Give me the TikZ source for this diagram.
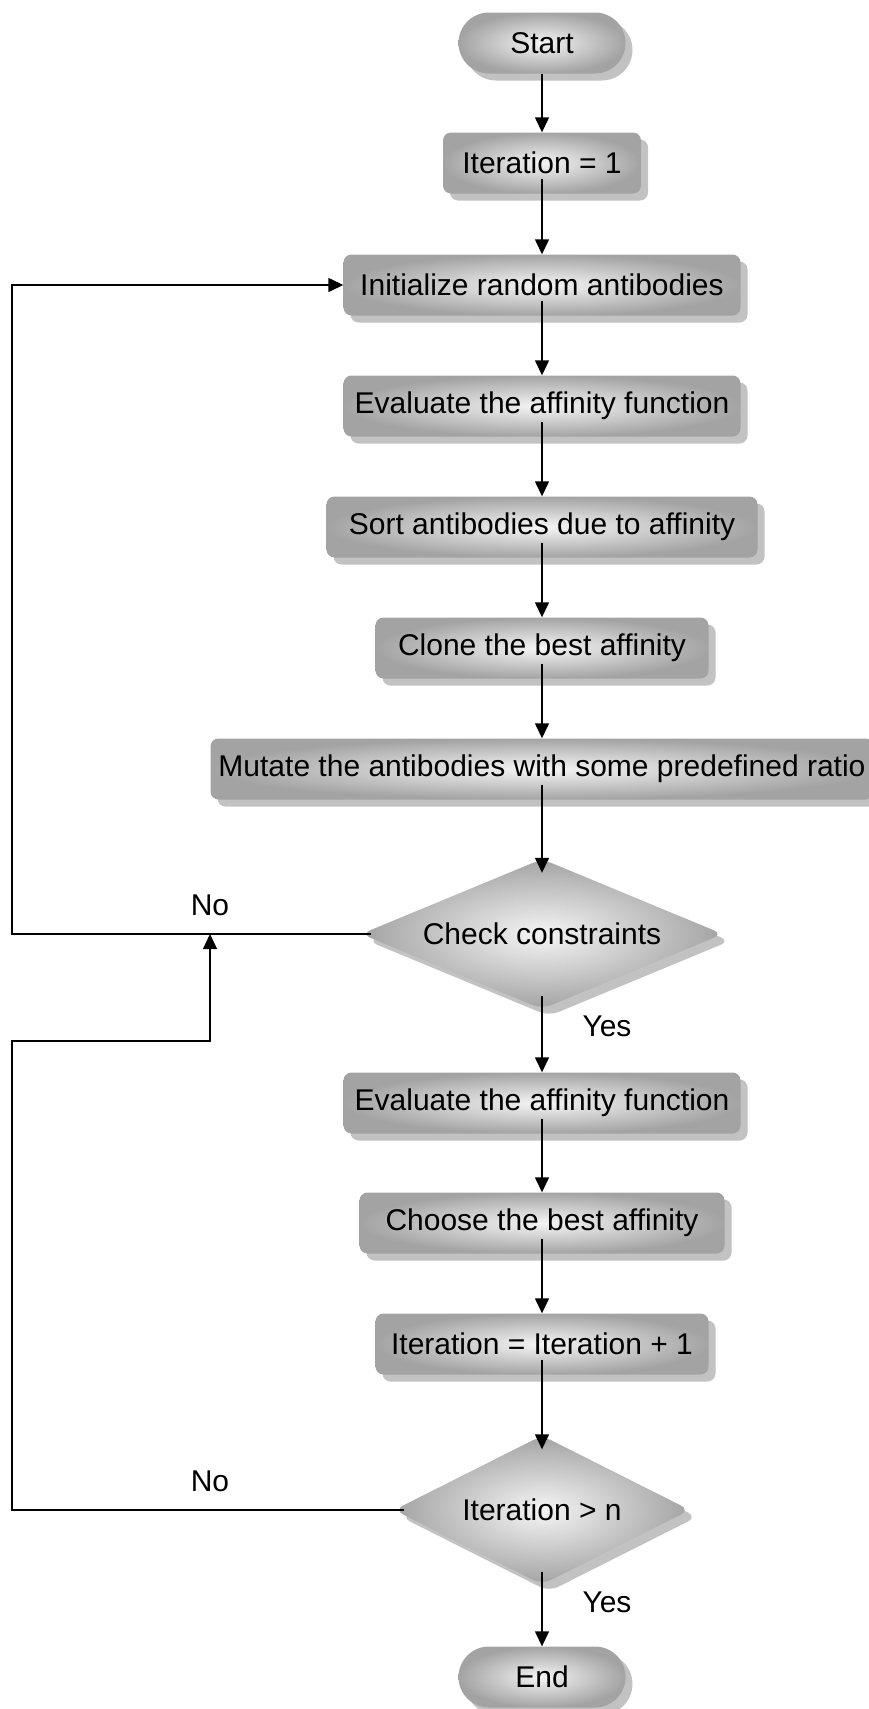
\documentclass[tikz,border=0pt]{standalone}
\usepackage{fontspec}
\setmainfont{Liberation Sans}
\usetikzlibrary{shapes.geometric,shapes.misc,shadows,arrows.meta}
\tikzset{
  shaded/.style={inner color=black!4, outer color=black!36,
    drop shadow={shadow xshift=7pt, shadow yshift=-7pt, fill=black!24, opacity=1},
    font=\fontsize{30}{36}\selectfont, inner sep=0pt},
  flowbox/.style={shaded, rectangle, rounded corners=8pt, minimum height=61pt},
  terminal/.style={shaded, rounded rectangle, minimum width=167pt, minimum height=61pt},
  decision/.style={shaded, diamond, aspect=2.3, rounded corners=10pt},
  flow/.style={line width=1.4pt, -{Triangle[length=15pt,width=14pt]}},
  tag/.style={font=\fontsize{30}{36}\selectfont}
}
\begin{document}
\begin{tikzpicture}[x=1pt,y=-1pt]
  \useasboundingbox (0,0) rectangle (869,1709);
  \node[terminal] (start) at (542,43) {Start};
  \node[flowbox, minimum width=198pt] (it1) at (542,163) {Iteration = 1};
  \node[flowbox, minimum width=397pt] (init) at (542,285) {Initialize random antibodies};
  \node[flowbox, minimum width=397pt] (eval) at (542,406) {Evaluate the affinity function};
  \node[flowbox, minimum width=431pt] (sort) at (542,527) {Sort antibodies due to affinity};
  \node[flowbox, minimum width=333pt] (clone) at (542,648) {Clone the best affinity};
  \node[flowbox, minimum width=663pt] (mut) at (542,769) {Mutate the antibodies with some predefined ratio};
  \node[decision, minimum width=362pt, minimum height=150pt] (chk) at (542,934) {Check constraints};
  \node[flowbox, minimum width=397pt] (eval2) at (542,1103) {Evaluate the affinity function};
  \node[flowbox, minimum width=365pt] (choose) at (542,1223) {Choose the best affinity};
  \node[flowbox, minimum width=333pt] (inc) at (542,1344) {Iteration = Iteration + 1};
  \node[decision, minimum width=296pt, minimum height=149pt] (test) at (542,1510) {Iteration > n};
  \node[terminal] (end) at (542,1677) {End};

  \draw[flow] (start.south) -- (it1.north);
  \draw[flow] ([yshift=15pt]it1.south) -- (init.north);
  \draw[flow] ([yshift=15pt]init.south) -- (eval.north);
  \draw[flow] ([yshift=15pt]eval.south) -- (sort.north);
  \draw[flow] ([yshift=15pt]sort.south) -- (clone.north);
  \draw[flow] ([yshift=15pt]clone.south) -- (mut.north);
  \draw[flow] ([yshift=15pt]mut.south) -- ([yshift=-14pt]chk.north);
  \draw[flow] ([yshift=13pt]chk.south) -- (eval2.north);
  \draw[flow] ([yshift=15pt]eval2.south) -- (choose.north);
  \draw[flow] ([yshift=15pt]choose.south) -- (inc.north);
  \draw[flow] ([yshift=15pt]inc.south) -- ([yshift=-14pt]test.north);
  \draw[flow] ([yshift=13pt]test.south) -- (end.north);

  \coordinate (lft) at (12,0);
  \coordinate (kink) at (210,1041);
  \coordinate (join) at (210,934);
  \draw[flow] ([xshift=10pt]chk.west) -- (chk.west -| lft) |- (init.west);
  \draw[flow] ([xshift=10pt]test.west) -- (test.west -| lft) |- (kink) -- (join);

  \node[tag] (no1) at (210,905) {No};
  \node[tag] (yes1) at (607,1026) {Yes};
  \node[tag] (no2) at (210,1481) {No};
  \node[tag] (yes2) at (607,1602) {Yes};
\end{tikzpicture}
\end{document}
